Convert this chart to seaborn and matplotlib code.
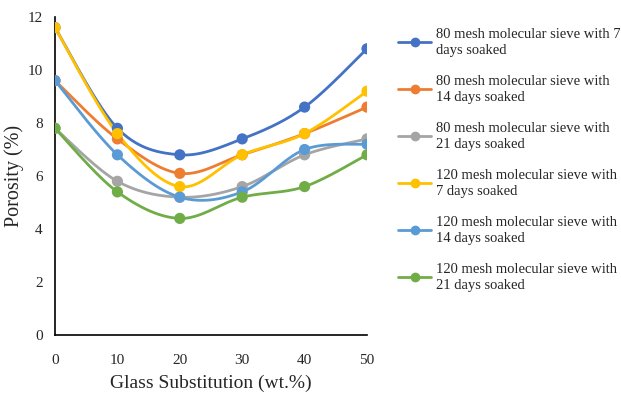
import numpy as np
import pandas as pd
import matplotlib
matplotlib.use("Agg")
import matplotlib.pyplot as plt
import seaborn as sns
from matplotlib.lines import Line2D

glass = [0, 10, 20, 30, 40, 50]
s80_7 = [11.6, 7.8, 6.8, 7.4, 8.6, 10.8]
s80_14 = [9.6, 7.4, 6.1, 6.8, 7.6, 8.6]
s80_21 = [7.8, 5.8, 5.2, 5.6, 6.8, 7.4]
s120_7 = [11.6, 7.6, 5.6, 6.8, 7.6, 9.2]
s120_14 = [9.6, 6.8, 5.2, 5.4, 7.0, 7.2]
s120_21 = [7.8, 5.4, 4.4, 5.2, 5.6, 6.8]

labels = [
    "80 mesh molecular sieve with 7\ndays soaked",
    "80 mesh molecular sieve with\n14 days soaked",
    "80 mesh molecular sieve with\n21 days soaked",
    "120 mesh molecular sieve with\n7 days soaked",
    "120 mesh molecular sieve with\n14 days soaked",
    "120 mesh molecular sieve with\n21 days soaked",
]
series = [s80_7, s80_14, s80_21, s120_7, s120_14, s120_21]
colors = ["#4472C4", "#ED7D31", "#A5A5A5", "#FFC000", "#5B9BD5", "#70AD47"]

sns.set_theme(style="white")
plt.rcParams["font.family"] = ["Liberation Serif", "DejaVu Serif"]


def smooth(x, y, n=30):
    # Catmull-Rom smoothing (similar to Excel's smoothed line)
    x = np.asarray(x, float)
    y = np.asarray(y, float)
    P = np.column_stack([x, y])
    P = np.vstack([P[0], P, P[-1]])
    out = []
    for i in range(1, len(P) - 2):
        p0, p1, p2, p3 = P[i - 1], P[i], P[i + 1], P[i + 2]
        c1 = p1 + (p2 - p0) / 6.0
        c2 = p2 - (p3 - p1) / 6.0
        t = np.linspace(0, 1, n, endpoint=(i == len(P) - 3))[:, None]
        b = ((1 - t) ** 3) * p1 + 3 * ((1 - t) ** 2) * t * c1 + 3 * (1 - t) * t ** 2 * c2 + t ** 3 * p2
        out.append(b)
    out = np.vstack(out)
    return out[:, 0], out[:, 1]


rows_line = []
rows_pts = []
for lab, ys in zip(labels, series):
    sx, sy = smooth(glass, ys)
    for a, b in zip(sx, sy):
        rows_line.append({"x": a, "y": b, "s": lab})
    for a, b in zip(glass, ys):
        rows_pts.append({"x": a, "y": b, "s": lab})
df_line = pd.DataFrame(rows_line)
df_pts = pd.DataFrame(rows_pts)
pal = dict(zip(labels, colors))

fig = plt.figure(figsize=(6.21, 3.99), dpi=100)
ax = fig.add_axes([55 / 621, 1 - 335 / 399, (367 - 55) / 621, (335 - 17) / 399])

sns.lineplot(data=df_line, x="x", y="y", hue="s", palette=pal, sort=False,
             estimator=None, linewidth=2.0, legend=False, ax=ax)
sns.scatterplot(data=df_pts, x="x", y="y", hue="s", palette=pal, s=65,
                edgecolor="none", legend=False, ax=ax, zorder=3)

ax.set_xlim(0, 50)
ax.set_ylim(0, 12)
ax.set_xticks(glass)
ax.set_yticks([0, 2, 4, 6, 8, 10, 12])
ax.tick_params(axis="y", length=0, labelsize=11, pad=9)
ax.tick_params(axis="x", length=0, labelsize=11, pad=14)
for sp in ["top", "right"]:
    ax.spines[sp].set_visible(False)
for sp in ["left", "bottom"]:
    ax.spines[sp].set_color("black")
    ax.spines[sp].set_linewidth(1.2)
ax.set_xlabel("Glass Substitution (wt.%)", fontsize=14, labelpad=5)
ax.set_ylabel("Porosity (%)", fontsize=14.5, labelpad=2)
ax.grid(False)

handles = [Line2D([0], [0], color=c, lw=2, marker="o", markersize=6) for c in colors]
leg = fig.legend(handles, labels, loc="upper left", bbox_to_anchor=(392 / 621, 1 - 22 / 399),
                 frameon=False, fontsize=10.5, labelspacing=1.2, handlelength=2.3,
                 handletextpad=0.3, borderaxespad=0)
for t in leg.get_texts():
    t.set_linespacing(1.35)

fig.savefig("out.png", dpi=100)
